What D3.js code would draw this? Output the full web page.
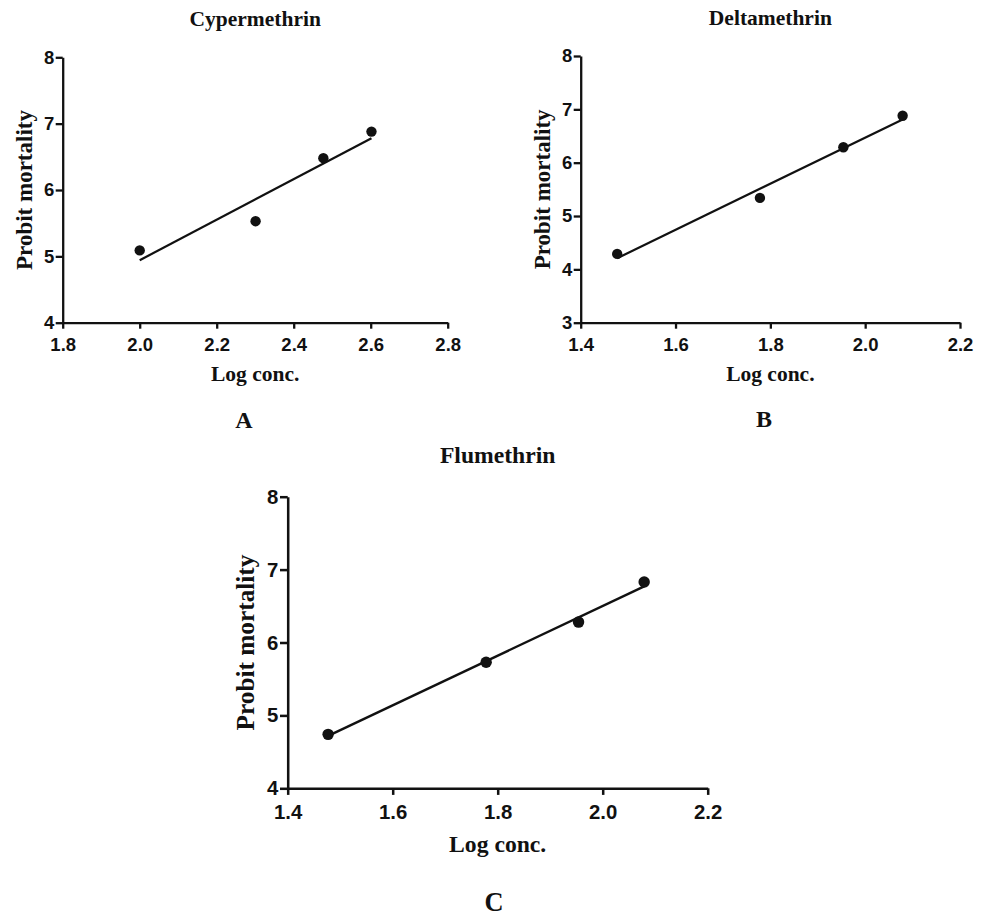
<!DOCTYPE html>
<html>
<head>
<meta charset="utf-8">
<script src="https://cdn.jsdelivr.net/npm/d3@7"></script>
<style>
  body { margin: 0; background: #fff; }
  svg { display: block; }
  .tick text { font-family: "Liberation Sans", Arial, sans-serif; font-weight: bold; fill: #111; }
  .lbl { font-family: "Liberation Serif", "Times New Roman", serif; font-weight: bold; fill: #111; }
</style>
</head>
<body>
<div id="chart"></div>
<script>
// log concentration vs probit mortality
var cyperLogConc = [2.0, 2.301, 2.477, 2.602];
var cyperProbit = [5.09, 5.53, 6.48, 6.88];
var deltaLogConc = [1.477, 1.778, 1.954, 2.079];
var deltaProbit = [4.29, 5.34, 6.29, 6.88];
var fluLogConc = [1.477, 1.778, 1.954, 2.079];
var fluProbit = [4.74, 5.73, 6.28, 6.83];

var cyperXTicks = [1.8, 2.0, 2.2, 2.4, 2.6, 2.8];
var cyperYTicks = [4, 5, 6, 7, 8];
var deltaXTicks = [1.4, 1.6, 1.8, 2.0, 2.2];
var deltaYTicks = [3, 4, 5, 6, 7, 8];
var fluXTicks = [1.4, 1.6, 1.8, 2.0, 2.2];
var fluYTicks = [4, 5, 6, 7, 8];

var titles = ["Cypermethrin", "Deltamethrin", "Flumethrin"];
var letters = ["A", "B", "C"];

var W = 983, H = 916;
var svg = d3.select("#chart").append("svg")
  .attr("width", W)
  .attr("height", H);

// panel boxes in page pixels; k scales fonts and marks (panel C is drawn larger)
var panels = [
  { x: cyperLogConc, y: cyperProbit, xt: cyperXTicks, yt: cyperYTicks,
    left: 62.7, right: 447.7, top: 57.3, bottom: 322.7, k: 1, letterX: 244, letterY: 428 },
  { x: deltaLogConc, y: deltaProbit, xt: deltaXTicks, yt: deltaYTicks,
    left: 580.7, right: 960, top: 56, bottom: 322.7, k: 1, letterX: 764, letterY: 427 },
  { x: fluLogConc, y: fluProbit, xt: fluXTicks, yt: fluYTicks,
    left: 287.7, right: 707.7, top: 496.7, bottom: 788.3, k: 1.1, letterX: 494, letterY: 911 }
];

function fit(xs, ys) {
  var mx = d3.mean(xs), my = d3.mean(ys);
  var sxy = d3.sum(xs, function(v, i) { return (v - mx) * (ys[i] - my); });
  var sxx = d3.sum(xs, function(v) { return (v - mx) * (v - mx); });
  var b = sxy / sxx;
  return function(v) { return my + b * (v - mx); };
}

panels.forEach(function(p, i) {
  var k = p.k;
  var x = d3.scaleLinear().domain(d3.extent(p.xt)).range([p.left, p.right]);
  var y = d3.scaleLinear().domain(d3.extent(p.yt)).range([p.bottom, p.top]);
  var g = svg.append("g");

  var xAxis = g.append("g")
    .attr("transform", "translate(0," + p.bottom + ")")
    .call(d3.axisBottom(x).tickValues(p.xt).tickFormat(d3.format(".1f"))
      .tickSizeInner(6 * k).tickSizeOuter(0).tickPadding(9 * k));
  var yAxis = g.append("g")
    .attr("transform", "translate(" + p.left + ",0)")
    .call(d3.axisLeft(y).tickValues(p.yt).tickFormat(d3.format("d"))
      .tickSizeInner(7 * k).tickSizeOuter(0).tickPadding(1.5 * k));

  [xAxis, yAxis].forEach(function(a) {
    a.select(".domain").attr("stroke", "#111").attr("stroke-width", 2.3 * k);
    a.selectAll(".tick line").attr("stroke", "#111").attr("stroke-width", 2.3 * k);
    a.selectAll(".tick text").style("font-size", (18.5 * k) + "px");
  });

  // least squares probit line over the tested range
  var f = fit(p.x, p.y);
  var ext = d3.extent(p.x);
  g.append("path")
    .datum(ext)
    .attr("fill", "none")
    .attr("stroke", "#111")
    .attr("stroke-width", 2.2 * k)
    .attr("d", d3.line().x(function(d) { return x(d); }).y(function(d) { return y(f(d)); }));

  g.selectAll("circle").data(p.x).enter()
    .append("circle")
      .attr("cx", function(d) { return x(d); })
      .attr("cy", function(d, j) { return y(p.y[j]); })
      .attr("r", 5.2 * k)
      .attr("fill", "#111");

  var mid = (p.left + p.right) / 2;
  g.append("text").attr("class", "lbl")
    .attr("x", mid).attr("y", p.top - 31 * k)
    .attr("text-anchor", "middle")
    .style("font-size", (21.5 * k) + "px")
    .text(titles[i]);

  g.append("text").attr("class", "lbl")
    .attr("x", mid).attr("y", p.bottom + 58 * k)
    .attr("text-anchor", "middle")
    .style("font-size", (21.5 * k) + "px")
    .text("Log conc.");

  g.append("text").attr("class", "lbl")
    .attr("transform", "translate(" + (p.left - 30.5 * k) + "," + ((p.top + p.bottom) / 2) + ") rotate(-90)")
    .attr("text-anchor", "middle")
    .style("font-size", (23 * k) + "px")
    .text("Probit mortality");

  g.append("text").attr("class", "lbl")
    .attr("x", p.letterX).attr("y", p.letterY)
    .attr("text-anchor", "middle")
    .style("font-size", (24 * k) + "px")
    .text(letters[i]);
});
</script>
</body>
</html>
